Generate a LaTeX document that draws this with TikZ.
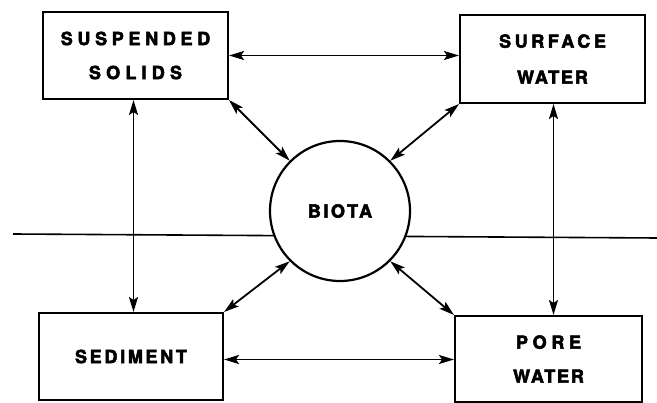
\documentclass[tikz,border=0pt]{standalone}
\usepackage{fontspec}
\setmainfont{TeX Gyre Heros}
\usetikzlibrary{arrows.meta}
\newcommand{\lsp}[2]{{\addfontfeatures{LetterSpace=#1,FakeBold=3}#2}}
\tikzset{
  box/.style={draw, line width=2pt, minimum width=185pt, minimum height=87pt, inner sep=0pt,
    align=center, font=\bfseries\fontsize{18}{34}\selectfont},
  bio/.style={draw, circle, line width=2.2pt, minimum size=140pt, inner sep=0pt, fill=white,
    font=\bfseries\fontsize{18}{34}\selectfont},
  tip/.style={Stealth[length=15pt,width=9pt,inset=3pt]},
  conn/.style={line width=1.8pt, {Stealth[length=15pt,width=9pt,inset=3pt]}-{Stealth[length=15pt,width=9pt,inset=3pt]}},
  plain/.style={line width=1.6pt}
}
\begin{document}
\begin{tikzpicture}[x=1pt,y=1pt]
\useasboundingbox (0,0) rectangle (657,-403);
\coordinate (hl) at (13,-234);
\coordinate (hr) at (657,-238);
\draw[plain] (hl) -- (hr);
\node[box] (ss) at (135.5,-55.5) {\lsp{26}{SUSPENDED}\\\lsp{29}{SOLIDS}};
\node[box, minimum height=88pt] (sw) at (552.5,-59) {\lsp{20}{SURFACE}\\[2pt]\lsp{10}{WATER}};
\node[box, minimum width=184pt] (sed) at (131,-356.5) {\lsp{15}{SEDIMENT}};
\node[box, minimum width=187pt, minimum height=86pt] (pw) at (548.5,-359) {\lsp{26}{PORE}\\\lsp{10}{WATER}};
\node[bio] (biota) at (340,-211) {\lsp{14}{BIOTA}};
\draw[conn] (ss.east) -- (ss.east -| sw.west);
\draw[conn] ([yshift=-3pt]sed.east) -- ([yshift=-3pt]sed.east -| pw.west);
\draw[conn] ([xshift=-2pt]ss.south) -- ([xshift=-2pt]ss.south |- sed.north);
\draw[conn] ([xshift=1pt]sw.south) -- ([xshift=1pt]sw.south |- pw.north);
\draw[conn] (ss.south east) -- (biota.135);
\draw[conn] (sw.south west) -- (biota.45);
\draw[conn] (sed.north east) -- (biota.225);
\draw[conn] (pw.north west) -- (biota.315);
\end{tikzpicture}
\end{document}
